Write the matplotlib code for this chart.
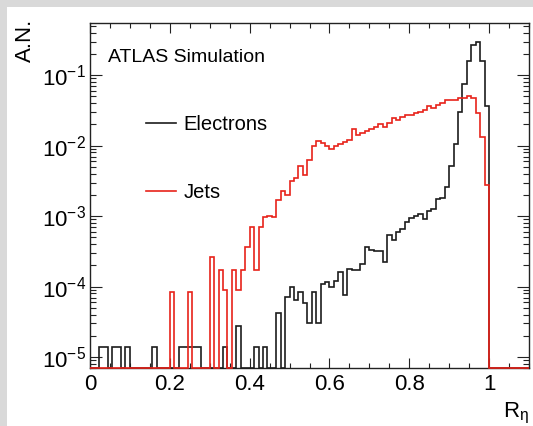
import numpy as np
import matplotlib
matplotlib.use('Agg')
import matplotlib.pyplot as plt
from matplotlib.patches import Rectangle
from matplotlib.lines import Line2D
from matplotlib.ticker import MultipleLocator, LogLocator, NullFormatter

###############################################################################

# R_eta histograms, 90 bins of width 1/90 over [0, 1] (A.N. per bin)
n_bins = 90
x_max = 1.1

electrons = [
    0, 0, 1.4e-5, 1.4e-5, 0, 1.4e-5, 1.4e-5, 0, 1.4e-5, 0,
    0, 0, 0, 0, 1.4e-5, 0, 0, 0, 0, 0,
    1.4e-5, 1.4e-5, 1.4e-5, 1.4e-5, 1.4e-5, 0, 0, 0, 0, 0,
    1.4e-5, 0, 0, 2.8e-5, 0, 0, 0, 1.4e-5, 0, 1.4e-5,
    0, 0, 4.2e-5, 0, 7.2e-5, 1.0e-4, 6.5e-5, 8.5e-5, 5.8e-5, 3.0e-5,
    8.5e-5, 3.0e-5, 1.1e-4, 1.15e-4, 1.0e-4, 1.2e-4, 1.6e-4, 7.6e-5, 1.75e-4, 1.7e-4,
    1.7e-4, 2.1e-4, 3.6e-4, 3.3e-4, 3.2e-4, 3.2e-4, 2.2e-4, 5.4e-4, 4.6e-4, 5.9e-4,
    6.6e-4, 8.3e-4, 9.3e-4, 1.0e-3, 1.07e-3, 9.1e-4, 1.17e-3, 1.26e-3, 1.74e-3, 1.8e-3,
    2.6e-3, 5.1e-3, 1.07e-2, 3.0e-2, 7.6e-2, 0.16, 0.27, 0.30, 0.16, 3.6e-2,
]

jets = [
    0, 0, 0, 0, 0, 0, 0, 0, 0, 0,
    0, 0, 0, 0, 0, 0, 0, 0, 8.5e-5, 0,
    0, 0, 8.5e-5, 0, 0, 0, 0, 2.6e-4, 0, 1.7e-4,
    8.9e-5, 0, 1.7e-4, 8.9e-5, 1.7e-4, 3.7e-4, 7.1e-4, 1.7e-4, 7.1e-4, 9.8e-4,
    1.0e-3, 9.8e-4, 1.7e-3, 2.3e-3, 2.0e-3, 3.2e-3, 3.5e-3, 5.2e-3, 3.8e-3, 6.3e-3,
    1.0e-2, 1.15e-2, 1.1e-2, 1.0e-2, 9.1e-3, 1.0e-2, 1.07e-2, 1.12e-2, 1.2e-2, 1.7e-2,
    1.4e-2, 1.5e-2, 1.6e-2, 1.75e-2, 1.85e-2, 2.0e-2, 1.85e-2, 2.1e-2, 2.45e-2, 2.3e-2,
    2.55e-2, 2.7e-2, 2.75e-2, 2.9e-2, 3.0e-2, 3.25e-2, 3.6e-2, 3.45e-2, 3.8e-2, 4.0e-2,
    4.4e-2, 4.5e-2, 4.5e-2, 4.8e-2, 4.7e-2, 5.0e-2, 4.8e-2, 2.95e-2, 1.33e-2, 2.75e-3,
]

labels = ['Electrons', 'Jets']
colors = ['#1c1c1c', '#e8221a']

y_lo, y_hi = 7e-6, 0.55

###############################################################################

plt.rcParams['font.family'] = ['Liberation Sans', 'DejaVu Sans']
plt.rcParams['mathtext.fontset'] = 'custom'
plt.rcParams['mathtext.rm'] = 'Liberation Sans'
plt.rcParams['mathtext.it'] = 'Liberation Sans'
plt.rcParams['axes.unicode_minus'] = False

fig = plt.figure(figsize=(5.33, 4.26), dpi=100)
fig.patch.set_facecolor('#d9d9d9')
# white canvas, grey frame only on the left and top
fig.add_artist(Rectangle((7 / 533, 0), 1, 1 - 7 / 426,
                         transform=fig.transFigure, facecolor='white',
                         edgecolor='none', zorder=-10))

ax = fig.add_axes([90 / 533, 1 - 368 / 426, 439 / 533, 345 / 426])
ax.set_facecolor('white')

# bins out to the end of the axis; empty bins sit on the bottom edge
edges = np.linspace(0, x_max, int(round(x_max * n_bins)) + 1)
n_extra = len(edges) - 1 - n_bins
for vals, col in zip([electrons, jets], colors):
    v = np.array(vals + [0] * n_extra, dtype=float)
    v = np.where(v > 0, v, y_lo)
    ax.stairs(v, edges, baseline=None, color=col, linewidth=1.2,
              clip_on=False, zorder=3)

ax.set_yscale('log')
ax.set_xlim(0, x_max)
ax.set_ylim(y_lo, y_hi)

ax.xaxis.set_major_locator(MultipleLocator(0.2))
ax.xaxis.set_minor_locator(MultipleLocator(0.05))
ax.xaxis.set_major_formatter(plt.FuncFormatter(lambda v, p: '%g' % round(v, 2)))
ax.yaxis.set_major_locator(LogLocator(base=10, numticks=10))
ax.yaxis.set_minor_locator(LogLocator(base=10, subs=np.arange(2, 10), numticks=10))
ax.yaxis.set_minor_formatter(NullFormatter())

ax.tick_params(which='both', direction='in', top=True, right=True,
               colors='#222222', labelcolor='black', labelsize=16)
ax.tick_params(axis='x', which='major', length=7.5, width=0.8, pad=4)
ax.tick_params(axis='x', which='minor', length=3.8, width=0.8)
ax.tick_params(axis='y', which='major', length=8.5, width=0.8, pad=3)
ax.tick_params(axis='y', which='minor', length=4.5, width=0.8)
for sp in ax.spines.values():
    sp.set_linewidth(1.0)
    sp.set_color('#222222')

# axis titles at the ends of the axes (ROOT style)
ax.text(-0.148, 1.012, 'A.N.', rotation=90, ha='center', va='top',
        fontsize=16, transform=ax.transAxes)
ax.text(1.0, -0.142, r'R$_{\mathrm{\eta}}$', ha='right', va='baseline',
        fontsize=16, transform=ax.transAxes)

ax.text(0.04, 0.9, 'ATLAS Simulation', fontsize=14, ha='left',
        va='center', transform=ax.transAxes)

handles = [Line2D([], [], color=c, linewidth=1.2) for c in colors]
ax.legend(handles, labels, loc='upper left', bbox_to_anchor=(0.11, 0.757),
          frameon=False, fontsize=14.5, handlelength=1.45,
          handletextpad=0.4, labelspacing=2.45, borderaxespad=0)

fig.savefig('out.png', dpi=100, facecolor=fig.get_facecolor())
